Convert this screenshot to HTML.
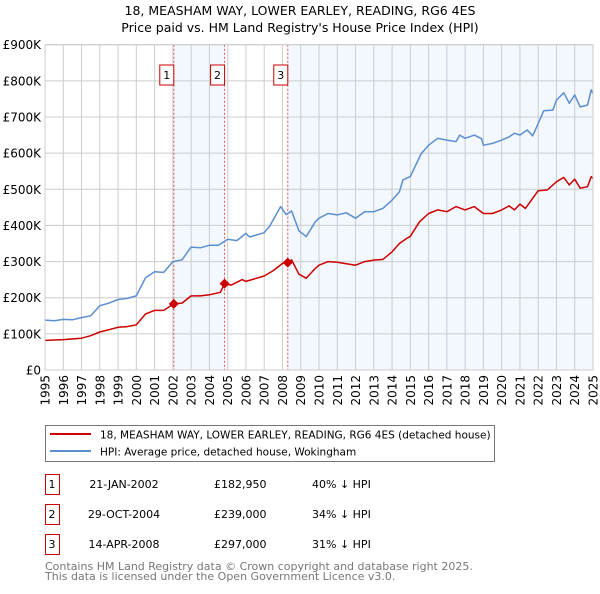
<!DOCTYPE html>
<html><head><meta charset="utf-8"><style>
body{margin:0;background:#fff;font-family:"DejaVu Sans","Liberation Sans",sans-serif}
svg text{font-family:"DejaVu Sans","Liberation Sans",sans-serif}
</style></head><body>
<svg id="c" width="600" height="590" xmlns="http://www.w3.org/2000/svg">
<text x="300" y="15" text-anchor="middle" font-size="12.5">18, MEASHAM WAY, LOWER EARLEY, READING, RG6 4ES</text>
<text x="300" y="32" text-anchor="middle" font-size="12.5">Price paid vs. HM Land Registry's House Price Index (HPI)</text>
<g id="plot"></g>
<rect x="45.5" y="425.5" width="449" height="36" fill="#fff" stroke="#777"/>
<line x1="50" y1="434" x2="91" y2="434" stroke="#cc0000" stroke-width="2"/>
<text x="100" y="438.5" font-size="10.5">18, MEASHAM WAY, LOWER EARLEY, READING, RG6 4ES (detached house)</text>
<line x1="50" y1="451" x2="91" y2="451" stroke="#5b8fd0" stroke-width="2"/>
<text x="100" y="455.5" font-size="10.5">HPI: Average price, detached house, Wokingham</text>
<g id="tbl" font-size="11"></g>
<text x="45" y="570" font-size="11" fill="#777">Contains HM Land Registry data © Crown copyright and database right 2025.</text>
<text x="45" y="580" font-size="11" fill="#777">This data is licensed under the Open Government Licence v3.0.</text>
</svg>
<script>
const hpiYears=[1995,1995.5,1996,1996.5,1997,1997.5,1998,1998.5,1999,1999.5,2000,2000.5,2001,2001.5,2002,2002.5,2003,2003.5,2004,2004.5,2005,2005.5,2006,2006.2,2007,2007.3,2007.9,2008.2,2008.5,2008.9,2009.3,2009.8,2010,2010.5,2011,2011.5,2012,2012.5,2013,2013.5,2014,2014.4,2014.6,2015,2015.6,2016,2016.5,2017,2017.5,2017.7,2018,2018.5,2018.9,2019,2019.5,2020,2020.4,2020.7,2021,2021.4,2021.7,2022,2022.3,2022.8,2023,2023.4,2023.7,2024,2024.3,2024.7,2024.9,2025];
const hpiValues=[138,136,140,139,145,150,178,185,195,198,205,255,272,270,300,305,340,338,345,345,362,358,378,368,380,398,452,430,440,385,369,410,420,433,429,435,420,438,438,447,470,493,526,535,599,622,641,636,632,650,641,650,640,622,627,636,645,655,650,664,648,682,717,719,747,767,738,761,728,733,775,765];
const priceYears=[1995,1996,1997,1997.5,1998,1999,1999.5,2000,2000.5,2001,2001.5,2002.05,2002.5,2003,2003.5,2004,2004.6,2004.83,2005.2,2005.8,2006,2007,2007.5,2008,2008.29,2008.5,2008.9,2009.3,2009.8,2010,2010.5,2011,2012,2012.5,2013,2013.5,2014,2014.4,2014.8,2015,2015.5,2016,2016.5,2017,2017.5,2018,2018.5,2019,2019.5,2020,2020.4,2020.7,2021,2021.3,2022,2022.5,2023,2023.4,2023.7,2024,2024.3,2024.7,2024.9,2025];
const priceValues=[82,84,88,95,105,118,120,125,155,165,165,183,185,205,205,208,215,239,235,250,245,260,275,295,297,305,265,254,281,290,300,298,290,300,304,306,327,350,364,370,410,433,443,438,452,443,452,433,433,443,454,443,459,447,496,498,521,533,512,528,503,507,535,530];
const saleYears=[2002.05,2004.83,2008.29];
const saleValues=[182.95,239,297];
const saleLabels=["1","2","3"];
const saleDates=["21-JAN-2002","29-OCT-2004","14-APR-2008"];
const salePrices=["£182,950","£239,000","£297,000"];
const saleDiffs=["40% ↓ HPI","34% ↓ HPI","31% ↓ HPI"];
const yTicks=[0,100,200,300,400,500,600,700,800,900];
const yTickLabels=["£0","£100K","£200K","£300K","£400K","£500K","£600K","£700K","£800K","£900K"];
const xTicks=[1995,1996,1997,1998,1999,2000,2001,2002,2003,2004,2005,2006,2007,2008,2009,2010,2011,2012,2013,2014,2015,2016,2017,2018,2019,2020,2021,2022,2023,2024,2025];

const X0=45,X1=593,Y0=370,Y1=44.7;
const xs=y=>X0+(y-1995)/30*(X1-X0);
const ys=v=>Y0-v/900*(Y0-Y1);
const NS="http://www.w3.org/2000/svg";
const plot=document.getElementById('plot');
function mk(tag,attrs,parent){const e=document.createElementNS(NS,tag);for(const k in attrs)e.setAttribute(k,attrs[k]);(parent||plot).appendChild(e);return e;}
let e;
e=mk('rect',{x:X0,y:Y1,width:X1-X0,height:Y0-Y1,fill:'#fff'});


e=mk('rect',{x:xs(saleYears[0]),y:Y1,width:xs(saleYears[1])-xs(saleYears[0]),height:Y0-Y1,fill:'#eef3fd',opacity:0.7});


e=mk('rect',{x:xs(saleYears[2]),y:Y1,width:X1-xs(saleYears[2]),height:Y0-Y1,fill:'#eef3fd',opacity:0.7});


yTicks.forEach((t,i)=>{
 e=mk('line',{x1:X0,x2:X1,y1:ys(t),y2:ys(t),stroke:'#ccc','stroke-width':1});
 
 
 e=mk('text',{x:X0-4,y:ys(t)+4.5,'text-anchor':'end','font-size':12});
 e.textContent=yTickLabels[i];
 
 
});
xTicks.forEach(t=>{
 e=mk('line',{x1:xs(t),x2:xs(t),y1:Y1,y2:Y0,stroke:'#ccc','stroke-width':1});
 
 
 e=mk('text',{x:0,y:0,'text-anchor':'end','font-size':12,transform:`translate(${xs(t)+4.5},${Y0+5}) rotate(-90)`});
 e.textContent=t;
 
 
});
saleYears.forEach((s,i)=>{
 e=mk('line',{x1:xs(s),x2:xs(s),y1:Y1,y2:Y0,stroke:'#e05050','stroke-width':1,'stroke-dasharray':'2,2'});
 
 
 e=mk('rect',{x:xs(s)-14,y:65,width:14,height:20,fill:'#fff',stroke:'#cc0000'});
 
 
 e=mk('text',{x:xs(s)-7,y:79,'text-anchor':'middle','font-size':11});
 e.textContent=saleLabels[i];
 
 
});
function path(xa,va,col,name){
 const d=xa.map((x,i)=>(i?'L':'M')+xs(x).toFixed(1)+','+ys(va[i]).toFixed(1)).join('');
 e=mk('path',{d:d,fill:'none',stroke:col,'stroke-width':1.5,'stroke-linejoin':'round'});
 
 
}
path(hpiYears,hpiValues,'#5b8fd0','hpi-line');
path(priceYears,priceValues,'#cc0000','price-line');
saleYears.forEach((s,i)=>{
 const cx=xs(s),cy=ys(saleValues[i]);
 e=mk('path',{d:`M${cx},${cy-5}L${cx+5},${cy}L${cx},${cy+5}L${cx-5},${cy}Z`,fill:'#cc0000'});
 
 
});
e=mk('rect',{x:X0,y:Y1,width:X1-X0,height:Y0-Y1,fill:'none',stroke:'#ccc'});


const tbl=document.getElementById('tbl');
saleYears.forEach((s,i)=>{
 const y=475+i*30;
 e=mk('rect',{x:45.5,y:y-0.5,width:14,height:20,fill:'#fff',stroke:'#cc0000'},tbl);
 
 
 const cols=[[52,saleLabels[i],'middle'],[124,saleDates[i],'middle'],[214,salePrices[i],'start'],[312,saleDiffs[i],'start']];
 cols.forEach(c=>{
  e=mk('text',{x:c[0],y:y+13,'text-anchor':c[2]},tbl);
  e.textContent=c[1];
  
  
 });
});
</script>
</body></html>
